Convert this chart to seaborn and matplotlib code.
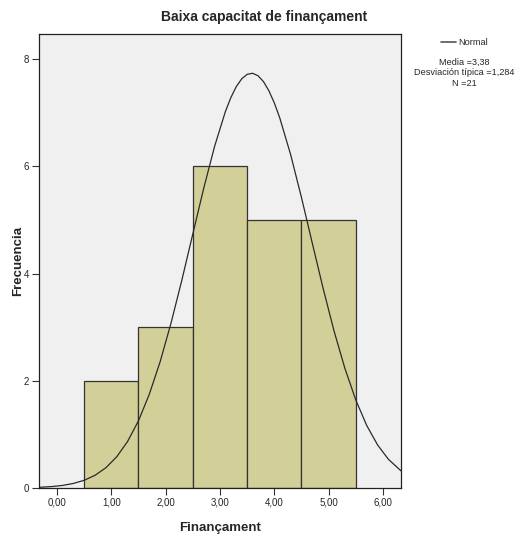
import numpy as np
import pandas as pd
import seaborn as sns
import matplotlib.pyplot as plt

# histogram data (bin centres and counts)
fin_values = [1, 2, 3, 4, 5]
fin_counts = [2, 3, 6, 5, 5]

# normal curve
curve_x = [-0.33, -0.1, 0.1, 0.3, 0.5, 0.7, 0.9, 1.1, 1.3, 1.5, 1.7, 1.9, 2.1, 2.3,
           2.5, 2.7, 2.9, 3.1, 3.2, 3.3, 3.4, 3.5, 3.6, 3.7, 3.8, 3.9, 4.0, 4.1,
           4.3, 4.5, 4.7, 4.9, 5.1, 5.3, 5.5, 5.7, 5.9, 6.1, 6.33]
curve_y = [0.012, 0.026, 0.047, 0.084, 0.143, 0.236, 0.377, 0.582, 0.868, 1.253,
           1.749, 2.359, 3.079, 3.884, 4.738, 5.588, 6.371, 7.025, 7.284, 7.489,
           7.635, 7.719, 7.739, 7.693, 7.584, 7.413, 7.186, 6.907, 6.223, 5.420,
           4.565, 3.718, 2.927, 2.229, 1.641, 1.168, 0.804, 0.535, 0.321]

x_ticks = [0, 1, 2, 3, 4, 5, 6]
x_tick_labels = ["0,00", "1,00", "2,00", "3,00", "4,00", "5,00", "6,00"]
y_ticks = [0, 2, 4, 6, 8]

stats_lines = ["Media =3,38", "Desviación típica =1,284", "N =21"]

sns.set_style("ticks")
plt.rcParams['font.family'] = ['Liberation Sans', 'DejaVu Sans']

fig = plt.figure(figsize=(5.2, 5.41), dpi=100)
ax = fig.add_axes([0.075, 0.098, 0.696, 0.839])
ax.set_facecolor("#f0f0f0")

df = pd.DataFrame({"x": fin_values, "n": fin_counts})
sns.histplot(data=df, x="x", weights="n", discrete=True, ax=ax,
             color="#d3cf98", alpha=1, edgecolor="#333333", linewidth=0.9)
sns.lineplot(x=curve_x, y=curve_y, ax=ax, color="#2a2a2a", linewidth=0.9, sort=False)

ax.set_xlim(-0.33, 6.33)
ax.set_ylim(0, 8.47)
ax.set_xticks(x_ticks)
ax.set_xticklabels(x_tick_labels, fontsize=7)
ax.set_yticks(y_ticks)
ax.set_yticklabels([str(v) for v in y_ticks], fontsize=7)
ax.tick_params(axis="both", direction="out", length=5, width=0.8, color="#333333", pad=2)
for s in ax.spines.values():
    s.set_visible(True)
    s.set_color("#222222")
    s.set_linewidth(0.9)

ax.set_xlabel("Finançament", fontsize=9.5, fontweight="bold", labelpad=10)
ax.set_ylabel("Frecuencia", fontsize=9.5, fontweight="bold", labelpad=0)
fig.text(0.507, 0.968, "Baixa capacitat de finançament", ha="center", va="center",
         fontsize=10, fontweight="bold")

# legend box at the right
fig.add_artist(plt.Line2D([0.848, 0.877], [0.922, 0.922], color="#555555", linewidth=1.2))
fig.text(0.881, 0.922, "Normal", ha="left", va="center", fontsize=6.6)
for i, t in enumerate(stats_lines):
    fig.text(0.893, 0.885 - i * 0.0195, t, ha="center", va="center", fontsize=6.6)

fig.savefig("out.png", dpi=100)
